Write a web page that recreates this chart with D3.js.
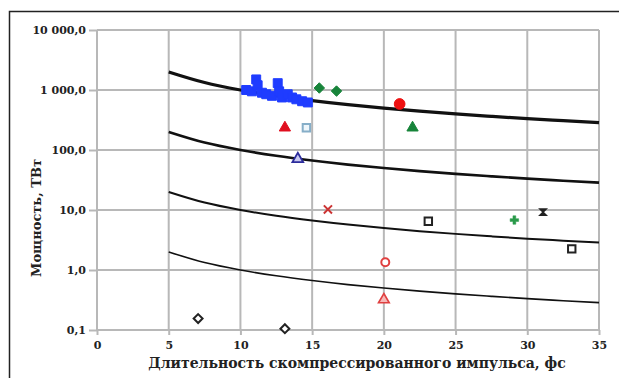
<!DOCTYPE html>
<html>
<head>
<meta charset="utf-8">
<script src="https://cdn.jsdelivr.net/npm/d3@7"></script>
<style>
  body { margin: 0; background: #fff; }
</style>
</head>
<body>
<div id="chart"></div>
<script>
// tick labels
var xTicks = [0, 5, 10, 15, 20, 25, 30, 35];
var yTicks = [10000, 1000, 100, 10, 1, 0.1];
var yTickLabels = ["10 000,0", "1 000,0", "100,0", "10,0", "1,0", "0,1"];

// iso-energy curves
var curveT = [5, 7.5, 10, 12.5, 15, 17.5, 20, 22.5, 25, 27.5, 30, 32.5, 35];
var curve1 = [2000, 1333, 1000, 800, 667, 571, 500, 444, 400, 364, 333, 308, 286];
var curve2 = [200, 133, 100, 80, 66.7, 57.1, 50, 44.4, 40, 36.4, 33.3, 30.8, 28.6];
var curve3 = [20, 13.3, 10, 8, 6.67, 5.71, 5, 4.44, 4, 3.64, 3.33, 3.08, 2.86];
var curve4 = [2, 1.33, 1, 0.8, 0.667, 0.571, 0.5, 0.444, 0.4, 0.364, 0.333, 0.308, 0.286];

// measured points  [duration fs, power TW]
var blueSquares = [[10.4, 1000], [10.8, 950], [11.1, 1500], [11.2, 1200], [11.5, 900], [11.8, 850],
                   [12.2, 800], [12.6, 1300], [12.7, 950], [12.9, 750], [13.3, 850], [13.6, 750],
                   [13.9, 700], [14.3, 650], [14.7, 620]];
var greenDiamonds = [[15.5, 1080], [16.7, 960]];
var redCircle = [[21.1, 585]];
var greenTriangle = [[22, 235]];
var redTriangle = [[13.1, 235]];
var lightSquare = [[14.6, 235]];
var blueOpenTriangle = [[14, 71]];
var redCross = [[16.1, 10.2]];
var blackSquares = [[23.1, 6.5], [33.1, 2.25]];
var greenPlus = [[29.1, 6.8]];
var blackStar = [[31.1, 9.2]];
var redOpenCircle = [[20.1, 1.35]];
var redOpenTriangle = [[20, 0.32]];
var blackDiamonds = [[7.05, 0.155], [13.1, 0.105]];

var font = "'DejaVu Serif', 'Liberation Serif', serif";

var svg = d3.select("#chart").append("svg")
  .attr("width", 619)
  .attr("height", 378);

var x = d3.scaleLinear().domain([0, 35]).range([97, 599]);
var y = d3.scaleLog().domain([0.1, 10000]).range([330, 30]);

// outer frame
svg.append("path")
  .attr("d", "M9.5 378 L9.5 11.5 L619 11.5")
  .attr("fill", "none")
  .attr("stroke", "#222")
  .attr("stroke-width", 1.5);

// grid
var grid = svg.append("g");
grid.selectAll(".vg").data(xTicks).enter().append("line")
  .attr("x1", function(d){ return x(d); })
  .attr("x2", function(d){ return x(d); })
  .attr("y1", y(10000)).attr("y2", y(0.1))
  .attr("stroke", "#b8b8b8").attr("stroke-width", 2);
grid.selectAll(".hg").data(yTicks).enter().append("line")
  .attr("x1", x(0)).attr("x2", x(35))
  .attr("y1", function(d){ return y(d); })
  .attr("y2", function(d){ return y(d); })
  .attr("stroke", "#b8b8b8").attr("stroke-width", 2);

// axes
var yAxis = svg.append("g")
  .attr("transform", "translate(" + x(0) + ",0)")
  .call(d3.axisLeft(y).tickValues(yTicks).tickSize(8).tickPadding(3)
    .tickFormat(function(d, i){ return yTickLabels[i]; }));
var xAxis = svg.append("g")
  .attr("transform", "translate(0," + y(0.1) + ")")
  .call(d3.axisBottom(x).tickValues(xTicks).tickSize(5).tickPadding(6));
[xAxis, yAxis].forEach(function(a){
  a.attr("font-family", font).attr("font-size", 11).attr("font-weight", "bold");
  a.select(".domain").remove();
  a.selectAll(".tick line").attr("stroke", "#b8b8b8").attr("stroke-width", 2);
  a.selectAll(".tick text").attr("fill", "#222");
});

// curves
var line = d3.line()
  .x(function(d, i){ return x(curveT[i]); })
  .y(function(d){ return y(d); })
  .curve(d3.curveMonotoneX);
var curves = [curve1, curve2, curve3, curve4];
var curveWidths = [3.2, 2.6, 2, 1.6];
svg.selectAll(".curve").data(curves).enter().append("path")
  .attr("d", line)
  .attr("fill", "none")
  .attr("stroke", "#111")
  .attr("stroke-width", function(d, i){ return curveWidths[i]; });

// markers
function marks(data, type, size, fill, stroke, sw){
  svg.append("g").selectAll("path").data(data).enter().append("path")
    .attr("transform", function(d){ return "translate(" + x(d[0]) + "," + y(d[1]) + ")"; })
    .attr("d", d3.symbol().type(type).size(size))
    .attr("fill", fill)
    .attr("stroke", stroke)
    .attr("stroke-width", sw);
}
var hourglass = { draw: function(ctx, size){
  var r = Math.sqrt(size) / 2;
  ctx.moveTo(-r, -r); ctx.lineTo(r, -r); ctx.lineTo(-r, r); ctx.lineTo(r, r); ctx.closePath();
}};
var diamond = { draw: function(ctx, size){
  var r = Math.sqrt(size) / 2;
  ctx.moveTo(0, -r); ctx.lineTo(r, 0); ctx.lineTo(0, r); ctx.lineTo(-r, 0); ctx.closePath();
}};

marks(blueSquares, d3.symbolSquare, 80, "#1f3cff", "#1f3cff", 1);
marks(greenDiamonds, diamond, 110, "#17843a", "#17843a", 1);
marks(redCircle, d3.symbolCircle, 90, "#ee1111", "#ee1111", 1);
marks(greenTriangle, d3.symbolTriangle, 55, "#17843a", "#17843a", 1);
marks(redTriangle, d3.symbolTriangle, 55, "#e01020", "#e01020", 1);
marks(lightSquare, d3.symbolSquare, 55, "#eef6fb", "#86aec8", 2);
marks(blueOpenTriangle, d3.symbolTriangle, 50, "#c8c8f0", "#2c2c9c", 1.8);
marks(redCross, d3.symbolX, 45, "none", "#cc3333", 2);
marks(blackSquares, d3.symbolSquare, 55, "#fff", "#222", 2);
marks(greenPlus, d3.symbolCross, 40, "#2a9a4a", "#2a9a4a", 0.5);
marks(blackStar, hourglass, 40, "#222", "#222", 1.5);
marks(redOpenCircle, d3.symbolCircle, 50, "#fff", "#e04040", 2);
marks(redOpenTriangle, d3.symbolTriangle, 50, "#f6b8b8", "#e04040", 1.6);
marks(blackDiamonds, diamond, 80, "#fff", "#222", 2);

// titles
svg.append("text")
  .attr("x", 357).attr("y", 368)
  .attr("text-anchor", "middle")
  .attr("font-family", font).attr("font-weight", "bold").attr("font-size", 14)
  .attr("fill", "#222")
  .text("Длительность скомпрессированного импульса, фс");
svg.append("text")
  .attr("transform", "translate(41,218) rotate(-90)")
  .attr("text-anchor", "middle")
  .attr("font-family", font).attr("font-weight", "bold").attr("font-size", 13)
  .attr("fill", "#222")
  .text("Мощность, ТВт");
</script>
</body>
</html>
